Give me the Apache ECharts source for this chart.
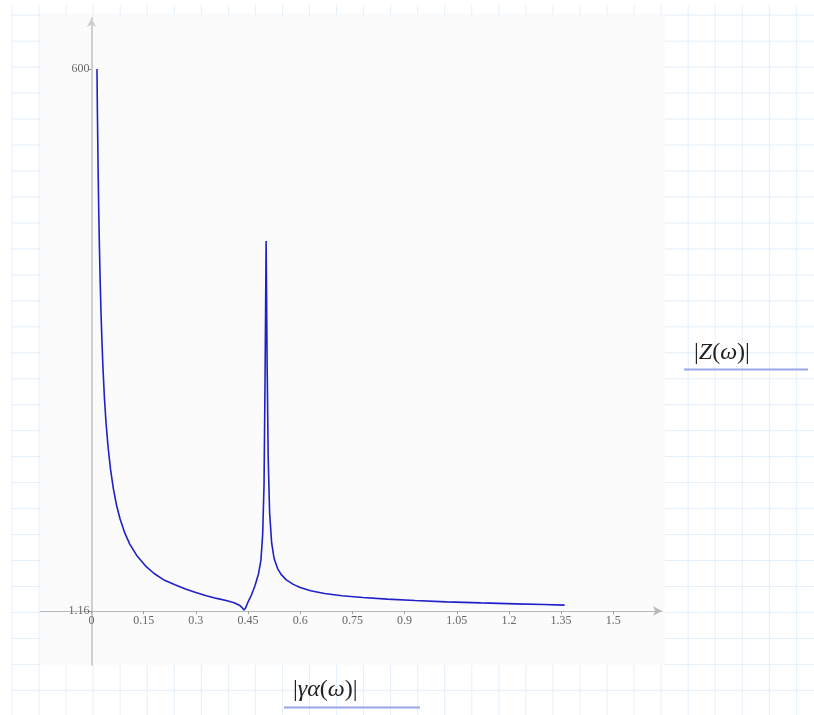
<!DOCTYPE html>
<html>
<head>
  <meta charset="utf-8">
  <title>|Z(ω)| vs |γα(ω)|</title>
  <script src="https://cdn.jsdelivr.net/npm/echarts@6/dist/echarts.min.js"></script>
  <style>
    html, body { margin: 0; padding: 0; background: #fff; }
    #wrap { position: relative; width: 814px; height: 715px; overflow: hidden; }
    /* grid paper behind the plot */
    #paper {
      position: absolute; left: 11px; top: 5px; right: 0; bottom: 0;
      background-image:
        linear-gradient(to right, #e3effa 1px, transparent 1px),
        linear-gradient(to bottom, #e3effa 1px, transparent 1px);
      background-size: 27.05px 25.97px;
      background-position: 0.5px 9.7px;
    }
    #chart { position: absolute; left: 0; top: 0; width: 814px; height: 715px; }
  </style>
</head>
<body>
<div id="wrap">
  <div id="paper"></div>
  <div id="chart"></div>
</div>
<script type="text/javascript">
// values
var omega = [0.0158, 0.017, 0.019, 0.021, 0.023, 0.025, 0.0275, 0.03, 0.033, 0.037,
  0.042, 0.048, 0.055, 0.063, 0.072, 0.082, 0.095, 0.11, 0.13, 0.155,
  0.18, 0.21, 0.24, 0.27, 0.3, 0.33, 0.36, 0.39, 0.41, 0.425,
  0.433, 0.438, 0.443, 0.45, 0.46, 0.47, 0.48, 0.487, 0.492, 0.496,
  0.499, 0.502, 0.505, 0.508, 0.512, 0.518, 0.525, 0.535, 0.545, 0.56,
  0.58, 0.6, 0.63, 0.67, 0.72, 0.78, 0.85, 0.93, 1.02, 1.12,
  1.22, 1.3, 1.36];
var zmag = [600, 553, 490, 440, 400, 365, 330, 300, 270, 238,
  208, 181, 157, 136, 118, 103, 88, 75, 62.5, 51,
  42.5, 35, 30, 25.5, 21.5, 18, 15, 12.3, 10.2, 7.5,
  4.8, 2.2, 4.5, 11, 19, 29, 42, 57, 85, 140,
  260, 410, 270, 170, 110, 76, 59, 48, 41.5, 35.5,
  30.5, 27, 23.5, 20.5, 18, 16, 14.2, 12.6, 11.2, 10,
  9, 8.2, 7.6];

var xTicks = [0, 0.15, 0.3, 0.45, 0.6, 0.75, 0.9, 1.05, 1.2, 1.35, 1.5];
var xTickLabels = ['0', '0.15', '0.3', '0.45', '0.6', '0.75', '0.9', '1.05', '1.2', '1.35', '1.5'];
var yTicks = [1.16, 600];
var yTickLabels = ['1.16', '600'];

var points = [];
for (var i = 0; i < omega.length; i++) {
  points.push([omega[i], zmag[i]]);
}

var labelFont = 'Liberation Serif';
var mathRich = {
  n: { fontFamily: 'Liberation Serif', fontSize: 24, fill: '#222' },
  i: { fontFamily: 'Liberation Serif', fontStyle: 'italic', fontSize: 24, fill: '#222' }
};
var myChart = echarts.init(document.getElementById('chart'));

myChart.setOption({
  animation: false,
  backgroundColor: 'transparent',
  grid: { left: 40, right: 152, top: 18, bottom: 50 },
  graphic: [
    {
      type: 'rect', z: -10, silent: true,
      shape: { x: 40, y: 15, width: 625, height: 650 },
      style: { fill: '#fbfbfb' }
    },
    {
      type: 'text', x: 694, y: 353, silent: true,
      style: { text: '{n||}{i|Z}{n|(}{i|ω}{n|)|}', rich: mathRich, verticalAlign: 'middle' }
    },
    {
      type: 'line', silent: true,
      shape: { x1: 684, y1: 369.5, x2: 808, y2: 369.5 },
      style: { stroke: '#9aa6ea', lineWidth: 2 }
    },
    {
      type: 'text', x: 293, y: 690, silent: true,
      style: { text: '{n||}{i|γα}{n|(}{i|ω}{n|)|}', rich: mathRich, verticalAlign: 'middle' }
    },
    {
      type: 'line', silent: true,
      shape: { x1: 284, y1: 707.5, x2: 420, y2: 707.5 },
      style: { stroke: '#9aa6ea', lineWidth: 2 }
    }
  ],
  xAxis: {
    type: 'value',
    min: -0.148,
    max: 1.64,
    offset: -54,
    axisLine: {
      onZero: false,
      symbol: ['none', 'arrow'],
      symbolSize: [7, 9],
      lineStyle: { color: '#b8b8b8', width: 1.2 }
    },
    axisTick: {
      customValues: xTicks,
      length: 3,
      lineStyle: { color: '#9a9a9a' }
    },
    axisLabel: {
      customValues: xTicks,
      margin: 4,
      color: '#666',
      fontFamily: labelFont,
      fontSize: 12,
      formatter: function (v) {
        var k = xTicks.indexOf(v);
        return k >= 0 ? xTickLabels[k] : String(v);
      }
    },
    splitLine: { show: false }
  },
  yAxis: {
    type: 'value',
    min: -58.6,
    max: 656.4,
    offset: -51.5,
    axisLine: {
      onZero: false,
      symbol: ['none', 'arrow'],
      symbolSize: [7, 9],
      lineStyle: { color: '#cfcfcf', width: 2 }
    },
    axisTick: {
      customValues: yTicks,
      length: 3,
      lineStyle: { color: '#9a9a9a' }
    },
    axisLabel: {
      customValues: yTicks,
      margin: 2,
      color: '#666',
      fontFamily: labelFont,
      fontSize: 12,
      formatter: function (v) {
        var k = yTicks.indexOf(v);
        return k >= 0 ? yTickLabels[k] : String(v);
      }
    },
    splitLine: { show: false }
  },
  series: [{
    name: '|Z(ω)|',
    type: 'line',
    data: points,
    showSymbol: false,
    smooth: false,
    lineStyle: { color: '#2020c8', width: 1.6 }
  }]
});
</script>
</body>
</html>
